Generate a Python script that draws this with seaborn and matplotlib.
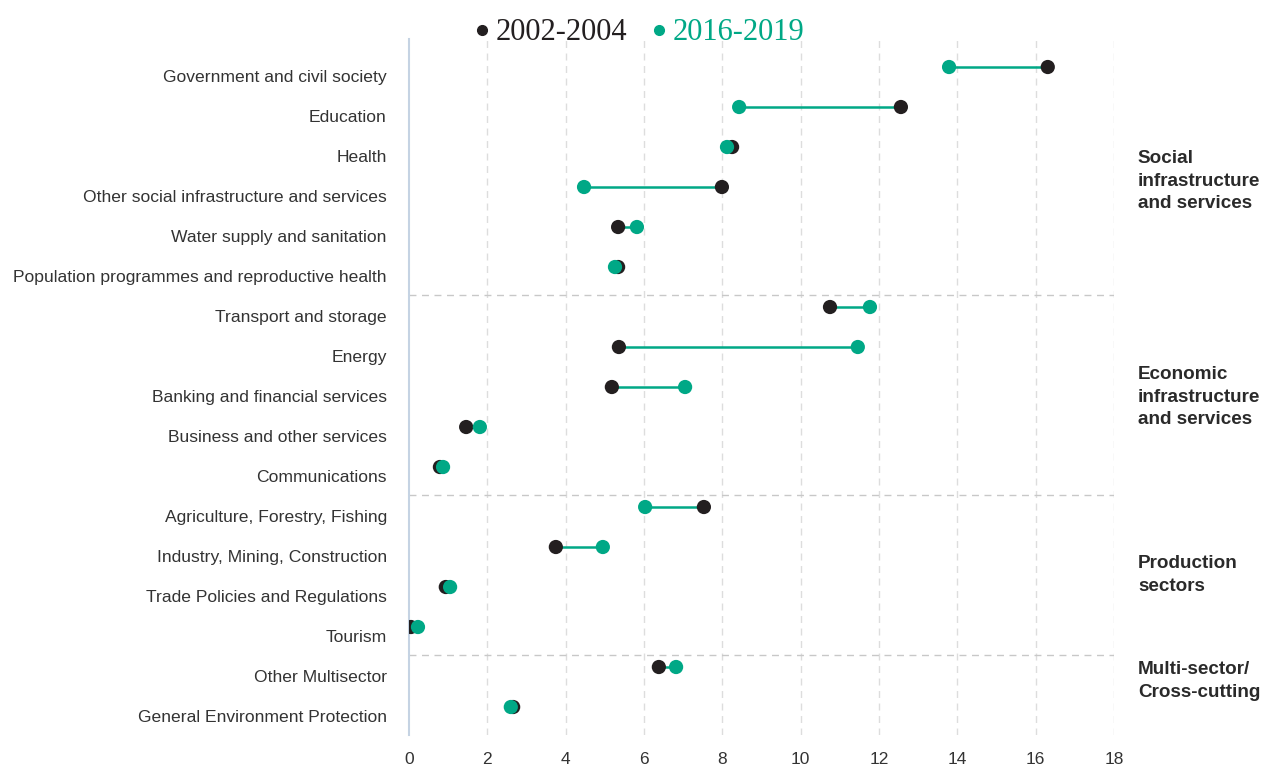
import matplotlib
matplotlib.use("Agg")
import matplotlib.pyplot as plt
import matplotlib.transforms as mtransforms
import seaborn as sns
import pandas as pd
from matplotlib.lines import Line2D

# sector shares (%)
sectores = [
    "Government and civil society",
    "Education",
    "Health",
    "Other social infrastructure and services",
    "Water supply and sanitation",
    "Population programmes and reproductive health",
    "Transport and storage",
    "Energy",
    "Banking and financial services",
    "Business and other services",
    "Communications",
    "Agriculture, Forestry, Fishing",
    "Industry, Mining, Construction",
    "Trade Policies and Regulations",
    "Tourism",
    "Other Multisector",
    "General Environment Protection",
]
val_2002 = [16.31, 12.56, 8.25, 7.99, 5.34, 5.34, 10.75, 5.36, 5.18, 1.46, 0.79,
            7.53, 3.75, 0.94, 0.05, 6.38, 2.66]
val_2016 = [13.79, 8.43, 8.12, 4.47, 5.82, 5.26, 11.77, 11.46, 7.05, 1.81, 0.87,
            6.03, 4.95, 1.05, 0.23, 6.82, 2.60]

grupos = ["Social\ninfrastructure\nand services",
          "Economic\ninfrastructure\nand services",
          "Production\nsectors",
          "Multi-sector/\nCross-cutting"]
grupo_y = [2.85, 8.25, 12.7, 15.35]
separadores = [5.7, 10.7, 14.7]

periodos = ["2002-2004", "2016-2019"]
NEGRO = "#231f20"
VERDE = "#00a886"

df = pd.DataFrame({"sector": sectores, periodos[0]: val_2002, periodos[1]: val_2016})
df["pos"] = range(len(df))
largo = df.melt(id_vars=["sector", "pos"], value_vars=periodos,
                var_name="periodo", value_name="valor")

sns.set_style("white")
plt.rcParams["font.family"] = ["Liberation Sans", "DejaVu Sans"]

fig = plt.figure(figsize=(12.65, 7.65), dpi=100)
ax = fig.add_axes([0.3233, 0.0392, 0.5573, 0.9098])

# rejilla vertical y separadores de grupo
for x in range(2, 19, 2):
    ax.axvline(x, color="#dddddd", lw=1, ls=(0, (5, 4)), zorder=0)
for y in separadores:
    ax.axhline(y, color="#c8c8c8", lw=1, ls=(0, (5, 4)), zorder=0)

ax.hlines(df["pos"], df[periodos[0]], df[periodos[1]], color=VERDE, lw=1.8, zorder=1)
sns.scatterplot(data=largo, x="valor", y="pos", hue="periodo",
                palette={periodos[0]: NEGRO, periodos[1]: VERDE},
                s=105, linewidth=0, legend=False, zorder=3, ax=ax)

ax.set_xlim(0, 18)
ax.set_ylim(len(df) - 0.3, -0.7)
ax.set_xticks(range(0, 19, 2))
ax.set_yticks(df["pos"])
ax.set_yticklabels(sectores)
ax.set_xlabel("")
ax.set_ylabel("")
ax.tick_params(axis="y", length=0, pad=16, labelsize=12.6, labelcolor="#333333")
ax.tick_params(axis="x", length=0, pad=12, labelsize=12.5, labelcolor="#333333")

# labels sit a bit below the dots in the original
baja = mtransforms.ScaledTranslation(0, -9 / 100, fig.dpi_scale_trans)
for lab in ax.get_yticklabels():
    lab.set_transform(lab.get_transform() + baja)

for s in ["top", "right", "bottom"]:
    ax.spines[s].set_visible(False)
ax.spines["left"].set_color("#c5d3e3")
ax.spines["left"].set_linewidth(1.5)

trans = ax.get_yaxis_transform()
for nombre, y in zip(grupos, grupo_y):
    ax.text(1.034, y, nombre, transform=trans, ha="left", va="center",
            fontsize=13.6, fontweight="bold", color="#2a2a2a", linespacing=1.45)

handles = [Line2D([], [], marker="o", ls="", color=NEGRO, markersize=7),
           Line2D([], [], marker="o", ls="", color=VERDE, markersize=7)]
fig.legend(handles, periodos, loc="upper center", bbox_to_anchor=(0.503, 1.012), ncol=2,
           frameon=False, handletextpad=0.0, columnspacing=0.6, handlelength=0.9,
           labelcolor=[NEGRO, VERDE],
           prop={"family": "Liberation Serif", "size": 22})

fig.savefig("out.png", dpi=100)
